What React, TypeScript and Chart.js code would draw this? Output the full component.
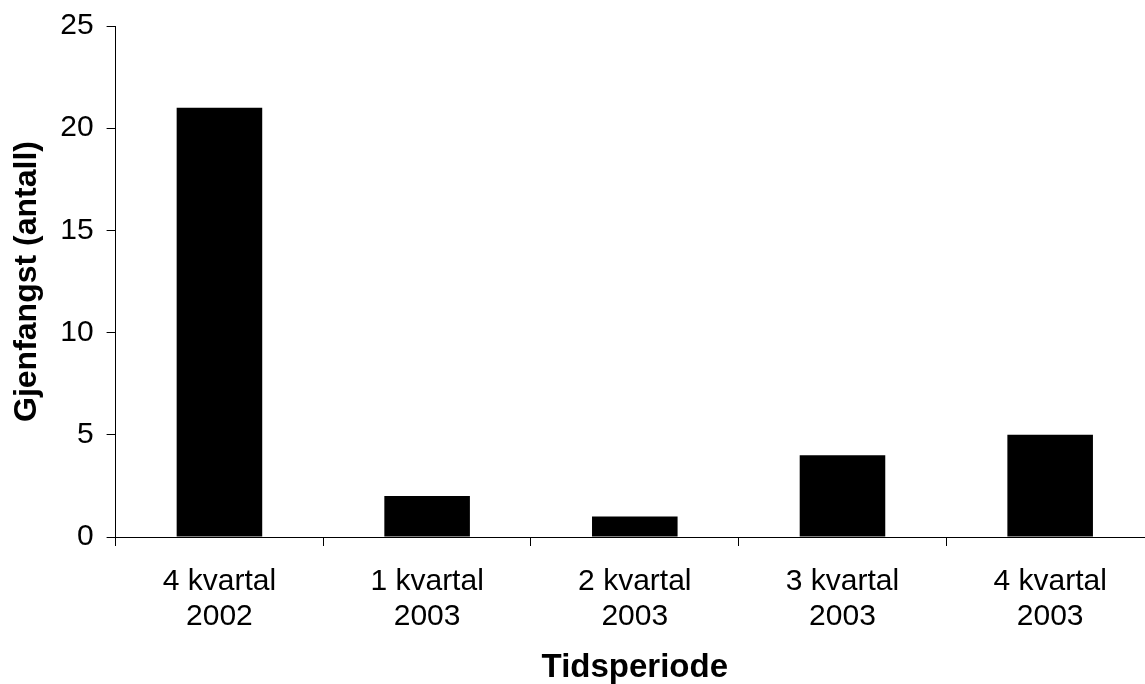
import React, { useEffect, useRef } from "react";
import { Chart, registerables } from "chart.js";

Chart.register(...registerables);

const categories: string[][] = [
  ["4 kvartal", "2002"],
  ["1 kvartal", "2003"],
  ["2 kvartal", "2003"],
  ["3 kvartal", "2003"],
  ["4 kvartal", "2003"],
];
const recaptures: number[] = [21, 2, 1, 4, 5];
const yMin = 0;
const yMax = 25;
const yStep = 5;
const xTitle = "Tidsperiode";
const yTitle = "Gjenfangst (antall)";

const FONT = "'Liberation Sans', Arial, sans-serif";

export default function App() {
  const ref = useRef<HTMLCanvasElement | null>(null);

  useEffect(() => {
    if (!ref.current) return;
    const chart = new Chart(ref.current, {
      type: "bar",
      data: {
        labels: categories,
        datasets: [
          {
            data: recaptures,
            backgroundColor: "#000000",
            borderWidth: 0,
            categoryPercentage: 1,
            barPercentage: 0.412,
          },
        ],
      },
      options: {
        responsive: false,
        animation: false,
        devicePixelRatio: 1,
        layout: { padding: { left: 0, top: 26, right: 0, bottom: 0 } },
        plugins: {
          legend: { display: false },
          tooltip: { enabled: false },
        },
        scales: {
          x: {
            offset: true,
            grid: {
              offset: true,
              drawOnChartArea: false,
              drawTicks: true,
              tickLength: 9,
              color: "#000000",
            },
            border: { display: true, color: "#000000", width: 1 },
            ticks: {
              color: "#000000",
              font: { family: FONT, size: 30, lineHeight: 1.18 },
              padding: 18,
              maxRotation: 0,
              autoSkip: false,
            },
            title: {
              display: true,
              text: xTitle,
              color: "#000000",
              font: { family: FONT, size: 33, weight: "bold", lineHeight: 1 },
              padding: { top: 0, bottom: 0 },
            },
            afterFit: (scale: any) => {
              scale.height = 147;
              scale.paddingLeft = 0;
              scale.paddingRight = 0;
            },
          },
          y: {
            min: yMin,
            max: yMax,
            ticks: {
              stepSize: yStep,
              color: "#000000",
              font: { family: FONT, size: 30 },
              padding: 13,
            },
            grid: {
              drawOnChartArea: false,
              drawTicks: true,
              tickLength: 9,
              color: "#000000",
            },
            border: { display: true, color: "#000000", width: 1 },
            title: {
              display: true,
              text: yTitle,
              color: "#000000",
              font: { family: FONT, size: 32, weight: "bold", lineHeight: 1.2 },
              padding: { top: 8, bottom: 0 },
            },
            afterFit: (scale: any) => {
              scale.width = 115.6;
              scale.paddingTop = 0;
              scale.paddingBottom = 0;
            },
          },
        },
      },
    });
    return () => chart.destroy();
  }, []);

  return (
    <div
      style={{
        position: "fixed",
        left: 0,
        top: 0,
        width: 1145,
        height: 684,
        overflow: "hidden",
        background: "#ffffff",
      }}
    >
      <canvas
        ref={ref}
        width={1154}
        height={684}
        style={{ display: "block", width: 1154, height: 684 }}
      />
    </div>
  );
}
